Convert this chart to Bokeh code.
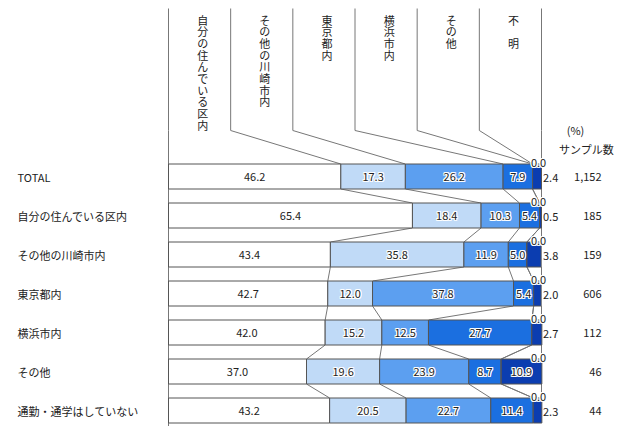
from bokeh.plotting import figure
from bokeh.models import ColumnDataSource, Range1d
from bokeh.core.properties import value
from bokeh.embed import file_html
from bokeh.resources import INLINE

rows = ["TOTAL", "自分の住んでいる区内", "その他の川崎市内", "東京都内", "横浜市内", "その他", "通勤・通学はしていない"]
categories = ["自分の住んでいる区内", "その他の川崎市内", "東京都内", "横浜市内", "その他", "不明"]
header_labels = ["自\n分\nの\n住\nん\nで\nい\nる\n区\n内", "そ\nの\n他\nの\n川\n崎\n市\n内", "東\n京\n都\n内", "横\n浜\n市\n内", "そ\nの\n他", "不\n\n明"]
own_ward = [46.2, 65.4, 43.4, 42.7, 42.0, 37.0, 43.2]
other_kawasaki = [17.3, 18.4, 35.8, 12.0, 15.2, 19.6, 20.5]
tokyo = [26.2, 10.3, 11.9, 37.8, 12.5, 23.9, 22.7]
yokohama = [7.9, 5.4, 5.0, 5.4, 27.7, 8.7, 11.4]
other = [0.0, 0.0, 0.0, 0.0, 0.0, 0.0, 0.0]
unknown = [2.4, 0.5, 3.8, 2.0, 2.7, 10.9, 2.3]
sample_n = ["1,152", "185", "159", "606", "112", "46", "44"]

series = [own_ward, other_kawasaki, tokyo, yokohama, other, unknown]
colors = ["#ffffff", "#c0daf7", "#5c9ff0", "#1b6fe0", "#3a7fe6", "#0b3db0"]
FONT = value("Noto Sans CJK JP")
TC = "#222222"

W, H = 630, 426
X0, X100 = 168, 541
s = (X100 - X0) / 100.0
p = figure(width=W, height=H, output_backend="svg", toolbar_location=None,
           x_range=Range1d(-X0 / s, (W - X0) / s), y_range=Range1d(H, 0),
           min_border=0)
p.axis.visible = False
p.grid.visible = False
p.outline_line_color = None
p.background_fill_color = "white"

y0, dy, bh = 176, 39, 25
ys = [y0 + dy * i for i in range(len(rows))]

keys = ["c%d" % k for k in range(len(categories))]
data = {"y": ys}
for k, ser in zip(keys, series):
    data[k] = ser
src = ColumnDataSource(data)

# cumulative boundaries
cums = []
for i in range(len(rows)):
    c = [0.0]
    for ser in series:
        c.append(c[-1] + ser[i])
    c[-1] = 100.0
    cums.append(c)

# connecting lines between rows
xs_l, ys_l = [], []
for i in range(len(rows) - 1):
    for k in range(len(categories) + 1):
        xs_l.append([cums[i][k], cums[i + 1][k]])
        ys_l.append([ys[i] + bh / 2, ys[i + 1] - bh / 2])
xs_l.append([0, 0]); ys_l.append([ys[-1] + bh / 2, H])
# header leader lines
ncol = len(categories)
for k in range(ncol + 1):
    xc = k * 100.0 / ncol
    xs_l.append([xc, xc, cums[0][k]])
    ys_l.append([8, 130, ys[0] - bh / 2])
p.multi_line(xs_l, ys_l, line_color="#777777", line_width=1)

p.hbar_stack(keys, y="y", height=bh, color=colors, line_color="#555555",
             line_width=1, source=src)

# header labels
hx = [(k + 0.55) * 100.0 / ncol for k in range(ncol)]
p.text(x=hx, y=[11] * ncol, text=header_labels, text_font=FONT, text_font_size="11px",
       text_align="center", text_baseline="top", text_line_height=0.73, text_color=TC)

# row labels
p.text(x=[(17 - X0) / s] * len(rows), y=ys, text=rows, text_font=FONT, text_font_size="11px",
       text_align="left", text_baseline="middle", text_color=TC)

# value labels
lx, ly, lt = [], [], []
hxs, hys, hts = [], [], []
zx, zy, zt = [], [], []
sx, sy, st = [], [], []
for i in range(len(rows)):
    for k, ser in enumerate(series):
        v = ser[i]
        mid = (cums[i][k] + cums[i][k + 1]) / 2
        if v == 0:
            zx.append(99.2); zy.append(ys[i] - bh / 2 - 1); zt.append("%.1f" % v)
        elif k == len(series) - 1 and v < 5:
            sx.append(100.4); sy.append(ys[i] + 1); st.append("%.1f" % v)
        elif k == 0:
            lx.append(mid); ly.append(ys[i]); lt.append("%.1f" % v)
        else:
            hxs.append(mid); hys.append(ys[i]); hts.append("%.1f" % v)

p.text(x=lx, y=ly, text=lt, text_font=FONT, text_font_size="11px", text_align="center",
       text_baseline="middle", text_color=TC)
# haloed labels on coloured segments
for dx, dyo in [(-1, 0), (1, 0), (0, -1), (0, 1), (-1, -1), (1, 1), (-1, 1), (1, -1)]:
    p.text(x=hxs + zx, y=hys + zy, text=hts + zt, text_font=FONT, text_font_size="11px",
           text_align="center", text_baseline="middle", text_color="white",
           x_offset=dx, y_offset=dyo)
p.text(x=hxs, y=hys, text=hts, text_font=FONT, text_font_size="11px", text_align="center",
       text_baseline="middle", text_color=TC)
p.text(x=zx, y=zy, text=zt, text_font=FONT, text_font_size="11px", text_align="center",
       text_baseline="middle", text_color=TC)
p.text(x=sx, y=sy, text=st, text_font=FONT, text_font_size="11px", text_align="left",
       text_baseline="middle", text_color=TC)

# sample sizes
nx = (601 - X0) / s
p.text(x=[nx] * len(rows), y=ys, text=sample_n, text_font=FONT, text_font_size="11px",
       text_align="right", text_baseline="middle", text_color=TC)
p.text(x=[(575 - X0) / s], y=[129], text=["(%)"], text_font=FONT, text_font_size="11px",
       text_align="center", text_baseline="middle", text_color=TC)
p.text(x=[(586 - X0) / s], y=[148], text=["サンプル数"], text_font=FONT, text_font_size="11px",
       text_align="center", text_baseline="middle", text_color=TC)

open("out.html", "w").write(file_html(p, INLINE))
